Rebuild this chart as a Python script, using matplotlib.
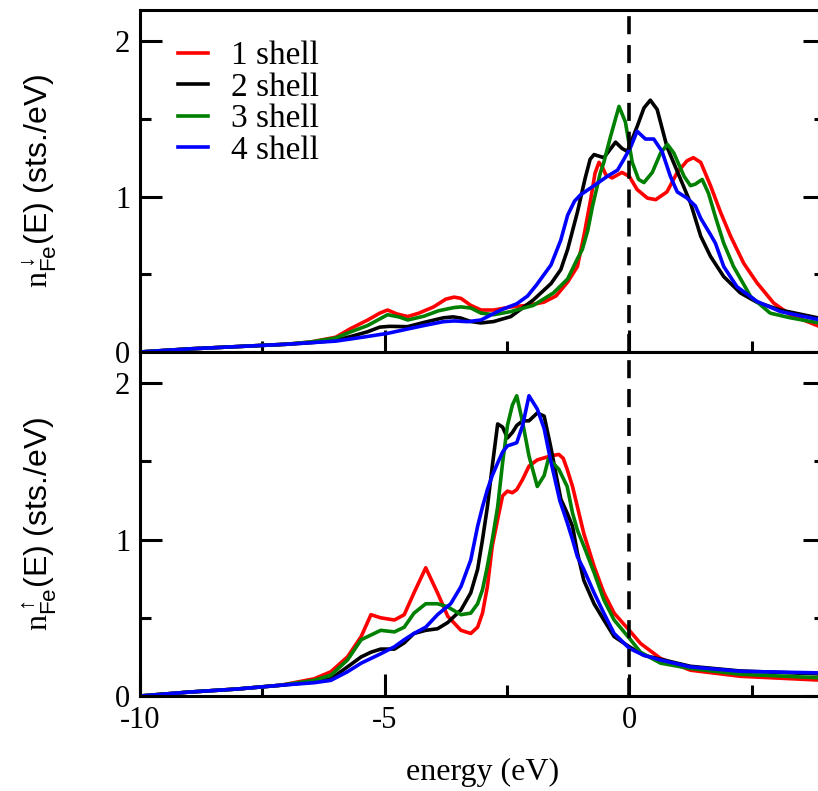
import numpy as np
import matplotlib
matplotlib.use("Agg")
import matplotlib.pyplot as plt

plt.rcParams['font.family'] = 'Liberation Serif'
plt.rcParams['axes.unicode_minus'] = False
plt.rcParams['mathtext.fontset'] = 'custom'
plt.rcParams['mathtext.rm'] = 'Liberation Serif'
plt.rcParams['mathtext.sf'] = 'Liberation Sans'

labels = ['1 shell', '2 shell', '3 shell', '4 shell']
colors = ['#ff0000', '#000000', '#008000', '#0000ff']

# spin-down DOS (top panel)
dn_red_e = [-10, -9, -8, -7, -6.5, -6.0, -5.7, -5.35, -5.1, -4.94, -4.75, -4.53, -4.3, -4.0, -3.75,
            -3.58, -3.44, -3.24, -3.03, -2.77, -2.42, -2.08, -1.75, -1.5, -1.26, -1.06, -0.92, -0.79,
            -0.7, -0.62, -0.55, -0.48, -0.35, -0.15, 0.0, 0.16, 0.37, 0.54, 0.77, 0.98, 1.18, 1.31,
            1.46, 1.66, 1.87, 2.07, 2.34, 2.61, 2.95, 3.29, 4.0]
dn_red_n = [0.0, 0.02, 0.035, 0.05, 0.065, 0.095, 0.15, 0.205, 0.25, 0.27, 0.245, 0.228, 0.25, 0.29, 0.34,
            0.353, 0.345, 0.30, 0.27, 0.27, 0.29, 0.30, 0.32, 0.36, 0.45, 0.55, 0.76, 0.98,
            1.15, 1.22, 1.19, 1.14, 1.12, 1.155, 1.13, 1.045, 0.99, 0.98, 1.03, 1.155, 1.23, 1.25,
            1.22, 1.07, 0.895, 0.745, 0.57, 0.445, 0.315, 0.24, 0.15]

dn_blk_e = [-10, -9, -8, -7, -6.5, -6.0, -5.69, -5.35, -5.1, -4.9, -4.53, -4.2, -3.8, -3.6, -3.44,
            -3.24, -3.03, -2.77, -2.42, -1.96, -1.6, -1.4, -1.26, -1.06, -0.9, -0.8, -0.72, -0.52,
            -0.4, -0.28, -0.15, -0.04, 0.16, 0.3, 0.43, 0.57, 0.77, 1.05, 1.25, 1.46, 1.66, 1.93,
            2.27, 2.61, 3.09, 4.0]
dn_blk_n = [0.0, 0.02, 0.035, 0.05, 0.06, 0.075, 0.10, 0.13, 0.16, 0.165, 0.163, 0.19, 0.22, 0.226, 0.218,
            0.196, 0.187, 0.196, 0.228, 0.335, 0.44, 0.53, 0.66, 0.90, 1.12, 1.24, 1.27, 1.25,
            1.30, 1.35, 1.31, 1.29, 1.45, 1.57, 1.62, 1.56, 1.32, 1.11, 0.96, 0.745, 0.615, 0.485,
            0.38, 0.32, 0.27, 0.21]

dn_grn_e = [-10, -9, -8, -7, -6.5, -6.0, -5.69, -5.35, -4.94, -4.7, -4.53, -4.2, -3.9, -3.58, -3.44,
            -3.24, -3.03, -2.77, -2.42, -1.96, -1.55, -1.26, -1.06, -0.96, -0.85, -0.75, -0.59,
            -0.52, -0.38, -0.21, -0.08, 0.06, 0.19, 0.3, 0.47, 0.64, 0.78, 0.91, 1.12, 1.25, 1.35,
            1.49, 1.62, 1.76, 1.93, 2.13, 2.48, 2.88, 3.29, 4.0]
dn_grn_n = [0.0, 0.02, 0.035, 0.05, 0.065, 0.09, 0.13, 0.17, 0.24, 0.225, 0.206, 0.23, 0.265, 0.286, 0.29,
            0.283, 0.25, 0.24, 0.26, 0.30, 0.38, 0.47, 0.60, 0.66, 0.78, 0.94, 1.155,
            1.22, 1.39, 1.58, 1.48, 1.22, 1.11, 1.09, 1.155, 1.28, 1.335, 1.28, 1.13, 1.07, 1.08,
            1.11, 1.02, 0.87, 0.70, 0.55, 0.357, 0.25, 0.22, 0.18]

dn_blu_e = [-10, -9, -8, -7, -6.5, -6.0, -5.69, -5.35, -4.94, -4.53, -4.2, -3.8, -3.58, -3.3, -3.03,
            -2.63, -2.3, -2.08, -1.9, -1.6, -1.4, -1.26, -1.12, -1.0, -0.72, -0.45, -0.24, -0.11,
            0.03, 0.16, 0.33, 0.5, 0.67, 0.84, 0.98, 1.18, 1.35, 1.46, 1.66, 1.76, 1.93, 2.2, 2.61,
            3.09, 4.0]
dn_blu_n = [0.0, 0.02, 0.035, 0.05, 0.06, 0.07, 0.084, 0.10, 0.12, 0.148, 0.17, 0.195, 0.20, 0.195, 0.206,
            0.27, 0.31, 0.36, 0.43, 0.56, 0.72, 0.88, 0.97, 1.01, 1.07, 1.13, 1.17, 1.24,
            1.32, 1.42, 1.37, 1.37, 1.29, 1.13, 1.03, 0.99, 0.94, 0.86, 0.755, 0.70, 0.55, 0.42, 0.325,
            0.26, 0.20]

# spin-up DOS (bottom panel)
up_red_e = [-10, -9, -8, -7.12, -6.44, -6.1, -5.76, -5.48, -5.28, -5.08, -4.8, -4.6, -4.4, -4.16, -3.92,
            -3.71, -3.44, -3.24, -3.1, -3.0, -2.9, -2.8, -2.69, -2.59, -2.49, -2.39, -2.3, -2.18, -2.05,
            -1.88, -1.61, -1.44, -1.35, -1.27, -1.16, -1.06, -0.93, -0.72, -0.52, -0.31, 0.0, 0.23,
            0.64, 1.25, 2.27, 4.0]
up_red_n = [0.0, 0.025, 0.045, 0.069, 0.11, 0.155, 0.25, 0.38, 0.52, 0.50, 0.486, 0.52, 0.66, 0.82, 0.66,
            0.51, 0.42, 0.40, 0.44, 0.53, 0.70, 0.96, 1.13, 1.28, 1.31, 1.30, 1.32, 1.385, 1.47,
            1.51, 1.535, 1.545, 1.52, 1.45, 1.34, 1.21, 1.04, 0.83, 0.66, 0.53, 0.42, 0.336,
            0.24, 0.165, 0.126, 0.10]

up_blk_e = [-10, -9, -8, -7.12, -6.44, -6.1, -5.76, -5.48, -5.28, -5.08, -4.8, -4.6, -4.4, -4.16, -3.92,
            -3.71, -3.44, -3.24, -3.1, -3.0, -2.9, -2.8, -2.69, -2.59, -2.49, -2.39, -2.3, -2.18, -2.05,
            -1.88, -1.74, -1.61, -1.4, -1.27, -1.16, -1.06, -0.93, -0.72, -0.52, -0.31, 0.0, 0.3,
            0.64, 1.25, 2.27, 4.0]
up_blk_n = [0.0, 0.025, 0.045, 0.069, 0.09, 0.11, 0.186, 0.25, 0.28, 0.30, 0.30, 0.34, 0.40, 0.42, 0.43,
            0.47, 0.55, 0.66, 0.81, 1.0, 1.21, 1.47, 1.74, 1.72, 1.65, 1.685, 1.73, 1.76, 1.76,
            1.81, 1.79, 1.60, 1.26, 1.17, 1.085, 0.915, 0.74, 0.59, 0.486, 0.38, 0.315, 0.26,
            0.235, 0.19, 0.16, 0.14]

up_grn_e = [-10, -9, -8, -7.12, -6.44, -6.1, -5.76, -5.48, -5.28, -5.08, -4.8, -4.6, -4.4, -4.16, -3.92,
            -3.71, -3.44, -3.24, -3.1, -3.0, -2.9, -2.8, -2.69, -2.59, -2.49, -2.39, -2.3, -2.18, -2.05,
            -1.88, -1.74, -1.65, -1.44, -1.27, -1.16, -1.06, -0.93, -0.72, -0.52, -0.31, 0.0, 0.23,
            0.64, 1.25, 2.27, 4.0]
up_grn_n = [0.0, 0.025, 0.045, 0.069, 0.10, 0.133, 0.23, 0.36, 0.39, 0.42, 0.41, 0.44, 0.53, 0.59, 0.59,
            0.57, 0.52, 0.53, 0.59, 0.68, 0.83, 1.0, 1.21, 1.49, 1.73, 1.86, 1.92, 1.75, 1.535,
            1.34, 1.41, 1.52, 1.45, 1.34, 1.17, 1.06, 0.96, 0.79, 0.615, 0.486, 0.37, 0.28,
            0.21, 0.176, 0.139, 0.115]

up_blu_e = [-10, -9, -8, -7.12, -6.44, -6.1, -5.76, -5.48, -5.28, -5.08, -4.8, -4.6, -4.4, -4.16, -3.92,
            -3.65, -3.44, -3.24, -3.1, -3.0, -2.9, -2.8, -2.69, -2.59, -2.49, -2.39, -2.3, -2.18, -2.05,
            -1.88, -1.74, -1.61, -1.42, -1.27, -1.16, -1.06, -0.93, -0.72, -0.52, -0.31, 0.0, 0.3,
            0.64, 1.25, 2.27, 4.0]
up_blu_n = [0.0, 0.025, 0.045, 0.069, 0.085, 0.10, 0.155, 0.21, 0.24, 0.27, 0.315, 0.36, 0.40, 0.44, 0.52,
            0.59, 0.70, 0.87, 1.085, 1.21, 1.32, 1.41, 1.49, 1.56, 1.60, 1.61, 1.62, 1.73, 1.92,
            1.835, 1.71, 1.51, 1.25, 1.11, 1.0, 0.89, 0.81, 0.66, 0.53, 0.40, 0.305, 0.26,
            0.23, 0.186, 0.158, 0.147]

top_data = [(dn_red_e, dn_red_n), (dn_blk_e, dn_blk_n), (dn_grn_e, dn_grn_n), (dn_blu_e, dn_blu_n)]
bot_data = [(up_red_e, up_red_n), (up_blk_e, up_blk_n), (up_grn_e, up_grn_n), (up_blu_e, up_blu_n)]

fig = plt.figure(figsize=(8.18, 7.91), dpi=100)
W = 818.0
H = 791.0
left = 140 / W
width = 685 / W
ax1 = fig.add_axes([left, 1 - 352 / H, width, 342 / H])
ax2 = fig.add_axes([left, 1 - 696 / H, width, 344 / H])

for ax, data in [(ax1, top_data), (ax2, bot_data)]:
    for (e, n), c, lab in zip(data, colors, labels):
        ax.plot(e, n, color=c, lw=2.6, label=lab, solid_joinstyle='round')
    ax.axvline(0, color='black', lw=2.6, dashes=(5, 3))
    ax.set_xlim(-10, 4)
    ax.set_ylim(0, 2.2)
    ax.set_xticks([-10, -5, 0])
    ax.set_xticks([-7.5, -2.5, 2.5], minor=True)
    ax.set_yticks([0, 1, 2])
    ax.set_yticks([0.5, 1.5], minor=True)
    ax.tick_params(which='both', direction='in', width=2.2, labelsize=22,
                   left=True, right=True, top=False, bottom=True)
    ax.tick_params(which='major', length=16, pad=7)
    ax.tick_params(which='minor', length=8)
    for s in ax.spines.values():
        s.set_linewidth(2.2)

ax1.tick_params(labelbottom=False)

ax1.legend(loc='upper left', bbox_to_anchor=(0.055, 0.91), frameon=False, fontsize=24,
           handlelength=0.9, handletextpad=0.7, labelspacing=0.03, borderaxespad=0, borderpad=0)

ax2.set_xlabel('energy (eV)', fontsize=23, labelpad=17)

fig.text(40 / W, 1 - 181 / H, r'$\mathrm{n}_{\mathsf{Fe}}^{\downarrow}$(E) (sts./eV)',
         rotation=90, ha='center', va='center', fontsize=23, family='Liberation Sans')
fig.text(40 / W, 1 - 524 / H, r'$\mathrm{n}_{\mathsf{Fe}}^{\uparrow}$(E) (sts./eV)',
         rotation=90, ha='center', va='center', fontsize=23, family='Liberation Sans')

fig.savefig('out.png', dpi=100)
